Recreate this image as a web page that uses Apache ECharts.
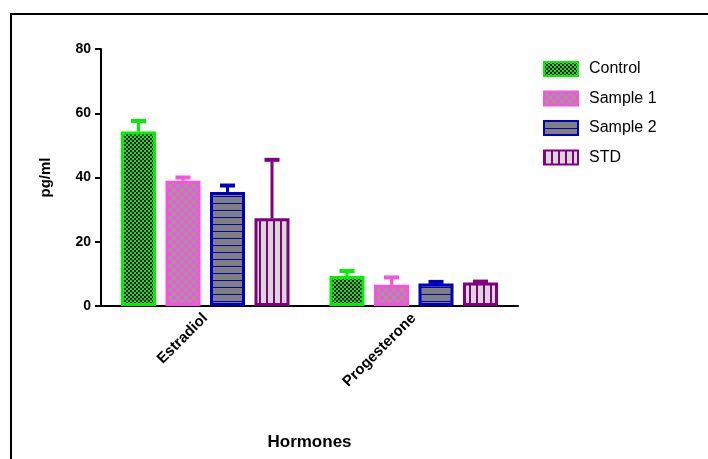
<!DOCTYPE html>
<html>
<head>
<meta charset="utf-8">
<script src="https://cdn.jsdelivr.net/npm/echarts@6/dist/echarts.min.js"></script>
<style>
  html, body { margin: 0; padding: 0; background: #fff; }
  #chart { width: 708px; height: 459px; }
</style>
</head>
<body>
<div id="chart"></div>
<script>
// data
var categories = ["Estradiol", "Progesterone"];
var groupNames = ["Control", "Sample 1", "Sample 2", "STD"];
var controlMean = [54.3, 9.3];
var controlSD = [3.3, 1.6];
var sample1Mean = [39.0, 6.6];
var sample1SD = [1.0, 2.3];
var sample2Mean = [35.5, 7.0];
var sample2SD = [2.0, 0.5];
var stdMean = [27.3, 7.3];
var stdSD = [18.2, 0.3];
var yTicks = [0, 20, 40, 60, 80];

var means = [controlMean, sample1Mean, sample2Mean, stdMean];
var sds = [controlSD, sample1SD, sample2SD, stdSD];

var borderColors = ["#00f000", "#f555d8", "#0000c0", "#800080"];

// fill patterns
function makePattern(w, h, draw) {
    var c = document.createElement("canvas");
    c.width = w; c.height = h;
    draw(c.getContext("2d"));
    return { image: c, repeat: "repeat" };
}
var patterns = [
    makePattern(4, 4, function (g) {
        g.fillStyle = "#00f000"; g.fillRect(0, 0, 4, 4);
        g.fillStyle = "#000"; g.fillRect(0, 0, 2, 2); g.fillRect(2, 2, 2, 2);
    }),
    makePattern(8, 8, function (g) {
        g.fillStyle = "#f555d8"; g.fillRect(0, 0, 8, 8);
        g.fillStyle = "#9a9a9a"; g.fillRect(0, 0, 4, 4); g.fillRect(4, 4, 4, 4);
    }),
    makePattern(7, 7, function (g) {
        g.fillStyle = "#808080"; g.fillRect(0, 0, 7, 7);
        g.fillStyle = "#0000c0"; g.fillRect(0, 0, 7, 1);
    }),
    makePattern(7, 7, function (g) {
        g.fillStyle = "#d8d8d8"; g.fillRect(0, 0, 7, 7);
        g.fillStyle = "#800080"; g.fillRect(0, 0, 2, 7);
    })
];

var barW = 35, barGap = 9.5;

var series = [];
for (var s = 0; s < groupNames.length; s++) {
    series.push({
        name: groupNames[s],
        type: "bar",
        barWidth: barW,
        barGap: (barGap / barW * 100) + "%",
        data: means[s],
        itemStyle: {
            color: patterns[s],
            borderColor: borderColors[s],
            borderWidth: 3
        },
        emphasis: { disabled: true }
    });
}

// error bars (upper only)
var errData = [];
for (var s = 0; s < groupNames.length; s++) {
    for (var i = 0; i < categories.length; i++) {
        errData.push([i, means[s][i], sds[s][i], s]);
    }
}
series.push({
    type: "custom",
    data: errData,
    z: 1,
    renderItem: function (params, api) {
        var ci = api.value(0), m = api.value(1), sd = api.value(2), s = api.value(3);
        var off = (s - 1.5) * (barW + barGap);
        var p0 = api.coord([ci, m]);
        var p1 = api.coord([ci, m + sd]);
        var x = p0[0] + off;
        var col = borderColors[s];
        return {
            type: "group",
            children: [
                { type: "line", shape: { x1: x, y1: p0[1], x2: x, y2: p1[1] },
                  style: { stroke: col, lineWidth: 3 } },
                { type: "line", shape: { x1: x - 7.5, y1: p1[1], x2: x + 7.5, y2: p1[1] },
                  style: { stroke: col, lineWidth: 4 } }
            ]
        };
    }
});

var myChart = echarts.init(document.getElementById("chart"));
var option = {
    animation: false,
    textStyle: { fontFamily: "Liberation Sans, Arial, sans-serif" },
    graphic: [
        { type: "polyline", shape: { points: [[11, 459], [11, 14], [708, 14]] },
          style: { stroke: "#000", lineWidth: 2, fill: null } }
    ],
    legend: {
        orient: "vertical",
        left: 538,
        top: 56,
        itemWidth: 34,
        itemHeight: 14,
        itemGap: 13.5,
        icon: "rect",
        data: groupNames,
        textStyle: { fontSize: 16, color: "#000", padding: [0, 0, 0, 6] }
    },
    grid: { left: 101, right: 190, top: 49, bottom: 153 },
    xAxis: {
        type: "category",
        data: categories,
        name: "Hormones",
        nameLocation: "middle",
        nameGap: 128,
        nameTextStyle: { fontSize: 17, fontWeight: "bold", color: "#000" },
        axisLine: { lineStyle: { color: "#000", width: 2 } },
        axisTick: { alignWithLabel: true, length: 6, lineStyle: { color: "#000", width: 2 } },
        axisLabel: { rotate: 45, fontSize: 15, fontWeight: "bold", color: "#000", margin: 10 }
    },
    yAxis: {
        type: "value",
        min: yTicks[0],
        max: yTicks[yTicks.length - 1],
        interval: 20,
        name: "pg/ml",
        nameLocation: "middle",
        nameRotate: 90,
        nameGap: 48,
        nameTextStyle: { fontSize: 15, fontWeight: "bold", color: "#000" },
        splitLine: { show: false },
        axisLine: { show: true, lineStyle: { color: "#000", width: 2 } },
        axisTick: { show: true, length: 6, lineStyle: { color: "#000", width: 2 } },
        axisLabel: { fontSize: 14, fontWeight: "bold", color: "#000", margin: 10 }
    },
    series: series
};
myChart.setOption(option);
</script>
</body>
</html>
